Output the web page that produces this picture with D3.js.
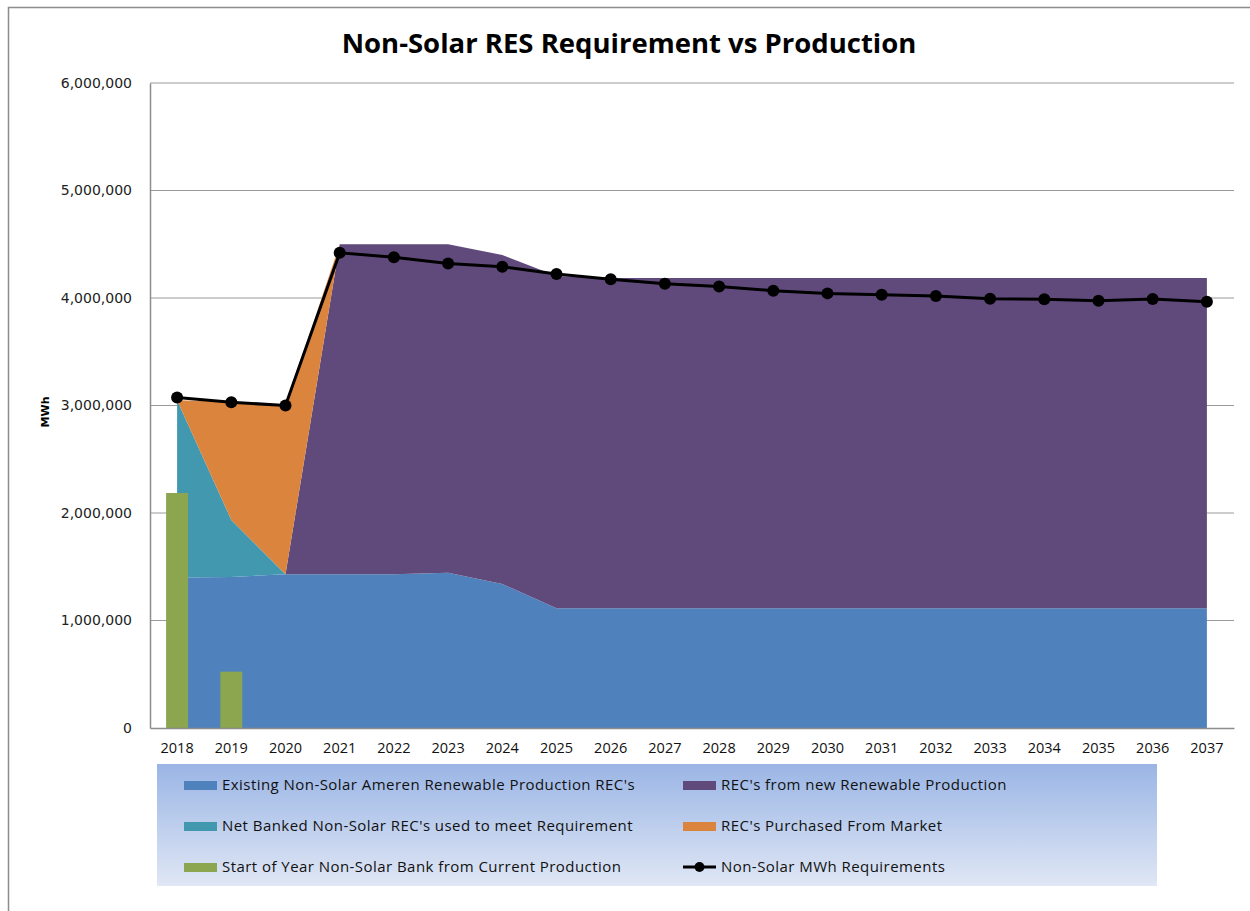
<!DOCTYPE html>
<html>
<head>
<meta charset="utf-8">
<script src="https://cdn.jsdelivr.net/npm/d3@7"></script>
<style>
  body { margin: 0; background: #fff; }
</style>
</head>
<body>
<div id="chart"></div>
<script>
// chart data
const years = ["2018","2019","2020","2021","2022","2023","2024","2025","2026","2027",
               "2028","2029","2030","2031","2032","2033","2034","2035","2036","2037"];
const existing  = [1400000,1405000,1430000,1430000,1430000,1445000,1340000,1115000,1115000,1115000,
                   1115000,1115000,1115000,1115000,1115000,1115000,1115000,1115000,1115000,1115000];
const newRes    = [0,0,0,3070000,3070000,3055000,3060000,3090000,3070000,3070000,
                   3070000,3070000,3070000,3070000,3070000,3070000,3070000,3070000,3070000,3070000];
const banked    = [1650000,530000,0,0,0,0,0,0,0,0,0,0,0,0,0,0,0,0,0,0];
const purchased = [0,1100000,1570000,0,0,0,0,0,0,0,0,0,0,0,0,0,0,0,0,0];
const startBank = [2186000,524000,0,0,0,0,0,0,0,0,0,0,0,0,0,0,0,0,0,0];
const requirement = [3075000,3030000,3000000,4420000,4380000,4320000,4290000,4223000,4174000,4133000,
                     4108000,4068000,4043000,4031000,4019000,3994000,3988000,3975000,3990000,3966000];
const yTicks = [0,1000000,2000000,3000000,4000000,5000000,6000000];

const seriesNames = [
  "Existing Non-Solar Ameren Renewable Production REC's",
  "REC's from new Renewable Production",
  "Net Banked Non-Solar REC's used to meet Requirement",
  "REC's Purchased From Market",
  "Start of Year Non-Solar Bank from Current Production",
  "Non-Solar MWh Requirements"
];
const colors = ["#4f81bd","#604a7b","#4198af","#db843d","#8ba64e","#000"];

const W = 1250, H = 911;
const margin = {top: 83, right: 16, bottom: 183, left: 150};
const width = W - margin.left - margin.right;
const height = H - margin.top - margin.bottom;

const svg = d3.select("#chart").append("svg")
    .attr("width", W)
    .attr("height", H);

// outer frame
svg.append("path")
    .attr("d", "M8.5," + H + "V7.5H" + W)
    .attr("fill", "none")
    .attr("stroke", "#8c8c8c")
    .attr("stroke-width", 1.5);

// title
svg.append("text")
    .attr("x", 629)
    .attr("y", 53)
    .attr("text-anchor", "middle")
    .style("font-family", "'Open Sans', sans-serif")
    .style("font-weight", "bold")
    .style("font-size", "27.5px")
    .text("Non-Solar RES Requirement vs Production");

const g = svg.append("g")
    .attr("transform", "translate(" + margin.left + "," + margin.top + ")");

// scales
const x = d3.scaleBand().domain(years).range([0, width]);
const cx = d => x(d) + x.bandwidth() / 2;
const y = d3.scaleLinear().domain([0, 6000000]).range([height, 0]);

// gridlines
g.append("g")
    .selectAll("line")
    .data(yTicks.slice(1))
    .join("line")
    .attr("x1", 0).attr("x2", width)
    .attr("y1", d => y(d)).attr("y2", d => y(d))
    .attr("stroke", "#9a9a9a")
    .attr("stroke-width", 1);

// stacked areas: existing, new, banked, purchased
const table = years.map((yr, i) => ({
  year: yr, existing: existing[i], newRes: newRes[i], banked: banked[i], purchased: purchased[i]
}));
const keys = ["existing","newRes","banked","purchased"];
const stacked = d3.stack().keys(keys)(table);
const area = d3.area()
    .x(d => cx(d.data.year))
    .y0(d => y(d[0]))
    .y1(d => y(d[1]));

g.append("g")
    .selectAll("path")
    .data(stacked)
    .join("path")
    .attr("fill", (d, i) => colors[i])
    .attr("d", area);

// bars
const barW = 22;
g.append("g")
    .selectAll("rect")
    .data(years.map((yr, i) => ({year: yr, v: startBank[i]})).filter(d => d.v > 0))
    .join("rect")
    .attr("x", d => cx(d.year) - barW / 2)
    .attr("y", d => y(d.v))
    .attr("width", barW)
    .attr("height", d => height - y(d.v))
    .attr("fill", colors[4]);

// axes
const yAxis = g.append("g")
    .call(d3.axisLeft(y).tickValues(yTicks).tickSize(0).tickPadding(18).tickFormat(d3.format(",")));
yAxis.select(".domain").attr("stroke", "#8c8c8c").attr("stroke-width", 1.5);
yAxis.selectAll("text")
    .style("font-family", "'DejaVu Sans', Verdana, sans-serif")
    .style("font-size", "14px")
    .attr("fill", "#222");

const xAxis = g.append("g")
    .attr("transform", "translate(0," + height + ")")
    .call(d3.axisBottom(x).tickSize(0).tickPadding(15));
xAxis.select(".domain").attr("stroke", "#8c8c8c").attr("stroke-width", 1.5);
xAxis.selectAll("text")
    .style("font-family", "'Open Sans', Arial, sans-serif")
    .style("font-size", "14.5px")
    .attr("fill", "#111");

svg.append("text")
    .attr("transform", "rotate(-90)")
    .attr("x", -412)
    .attr("y", 49)
    .attr("text-anchor", "middle")
    .style("font-family", "'DejaVu Sans', Verdana, sans-serif")
    .style("font-weight", "bold")
    .style("font-size", "11px")
    .text("MWh");

// requirement line
const line = d3.line()
    .x((d, i) => cx(years[i]))
    .y(d => y(d));
g.append("path")
    .datum(requirement)
    .attr("fill", "none")
    .attr("stroke", "#000")
    .attr("stroke-width", 3)
    .attr("d", line);
g.append("g")
    .selectAll("circle")
    .data(requirement)
    .join("circle")
    .attr("cx", (d, i) => cx(years[i]))
    .attr("cy", d => y(d))
    .attr("r", 6)
    .attr("fill", "#000");

// legend
const defs = svg.append("defs");
const grad = defs.append("linearGradient")
    .attr("id", "legGrad")
    .attr("x1", 0).attr("y1", 0).attr("x2", 0).attr("y2", 1);
grad.append("stop").attr("offset", "0%").attr("stop-color", "#9ab5e5");
grad.append("stop").attr("offset", "100%").attr("stop-color", "#e0e7f5");

const legend = svg.append("g").attr("transform", "translate(157,764)");
legend.append("rect")
    .attr("width", 1000)
    .attr("height", 122)
    .attr("fill", "url(#legGrad)");

const legItems = legend.selectAll("g.item")
    .data(seriesNames)
    .join("g")
    .attr("class", "item")
    .attr("transform", (d, i) => "translate(" + (i % 2 ? 526 : 27) + "," + (21 + Math.floor(i / 2) * 41) + ")");

legItems.each(function(d, i) {
  const it = d3.select(this);
  if (i < 5) {
    it.append("rect")
        .attr("x", 0).attr("y", -4)
        .attr("width", 33).attr("height", 9)
        .attr("fill", colors[i]);
  } else {
    it.append("line")
        .attr("x1", 0).attr("x2", 33).attr("y1", 0).attr("y2", 0)
        .attr("stroke", "#000").attr("stroke-width", 3);
    it.append("circle").attr("cx", 16.5).attr("cy", 0).attr("r", 5).attr("fill", "#000");
  }
  it.append("text")
      .attr("x", 38)
      .attr("dy", "0.35em")
      .style("font-family", "'Open Sans', sans-serif")
      .style("font-size", "15px")
      .style("letter-spacing", "0.45px")
      .attr("fill", "#111")
      .text(d);
});
</script>
</body>
</html>
